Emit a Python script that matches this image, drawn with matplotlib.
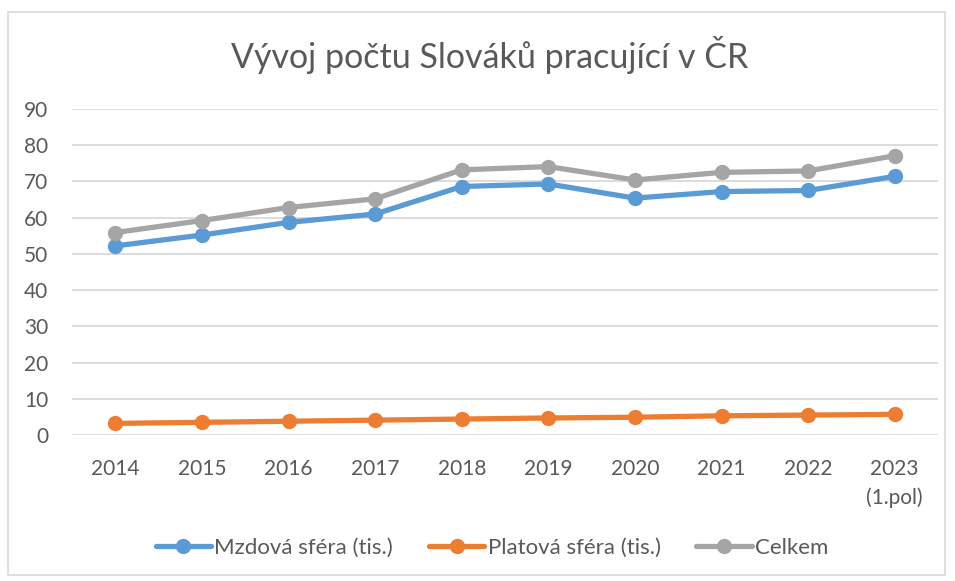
import matplotlib.pyplot as plt
from matplotlib.patches import Rectangle

plt.rcParams['font.family'] = ['Lato', 'DejaVu Sans']

years = ['2014', '2015', '2016', '2017', '2018', '2019', '2020', '2021', '2022', '2023\n(1.pol)']
mzdova = [52.2, 55.2, 58.7, 61.0, 68.6, 69.3, 65.4, 67.2, 67.5, 71.4]
platova = [3.2, 3.5, 3.8, 4.1, 4.4, 4.7, 4.9, 5.3, 5.5, 5.7]
celkem = [55.9, 59.2, 62.8, 65.2, 73.2, 74.1, 70.4, 72.5, 72.9, 77.1]

labels = ['Mzdová sféra (tis.)', 'Platová sféra (tis.)', 'Celkem']
colors = ['#5B9BD5', '#ED7D31', '#A5A5A5']
text_col = '#595959'

fig = plt.figure(figsize=(9.55, 5.81), dpi=100)
ax = fig.add_axes([0.0754, 0.2513, 0.9068, 0.5611])

# chart border
fig.patches.append(Rectangle((8/955, 1-575/581), 937/955, 563/581, transform=fig.transFigure,
                             fill=False, edgecolor='#D9D9D9', linewidth=1.2))

x = range(len(years))
for vals, lab, c in zip([mzdova, platova, celkem], labels, colors):
    ax.plot(x, vals, color=c, linewidth=3.8, marker='o', markersize=10, label=lab,
            solid_capstyle='round')

ax.set_xlim(-0.5, len(years) - 0.5)
ax.set_ylim(0, 90)
ax.set_yticks(range(0, 91, 10))
ax.set_xticks(list(x))
ax.set_xticklabels(years, linespacing=1.55)
ax.grid(axis='y', color='#D9D9D9', linewidth=1.3)
ax.set_axisbelow(True)
for s in ax.spines.values():
    s.set_visible(False)
ax.tick_params(length=0, labelsize=15, colors=text_col)
ax.tick_params(axis='y', pad=17)
ax.tick_params(axis='x', pad=17)

fig.text(0.513, 1 - 55/581, 'Vývoj počtu Slováků pracující v ČR', ha='center', va='center',
         fontsize=24.5, color=text_col)

fig.legend(loc='center', bbox_to_anchor=(492/955, 1 - 548/581), ncol=3, frameon=False,
           fontsize=16, handlelength=2.5, handletextpad=0.15, columnspacing=1.6,
           labelcolor=text_col)

fig.savefig('out.png', dpi=100)
